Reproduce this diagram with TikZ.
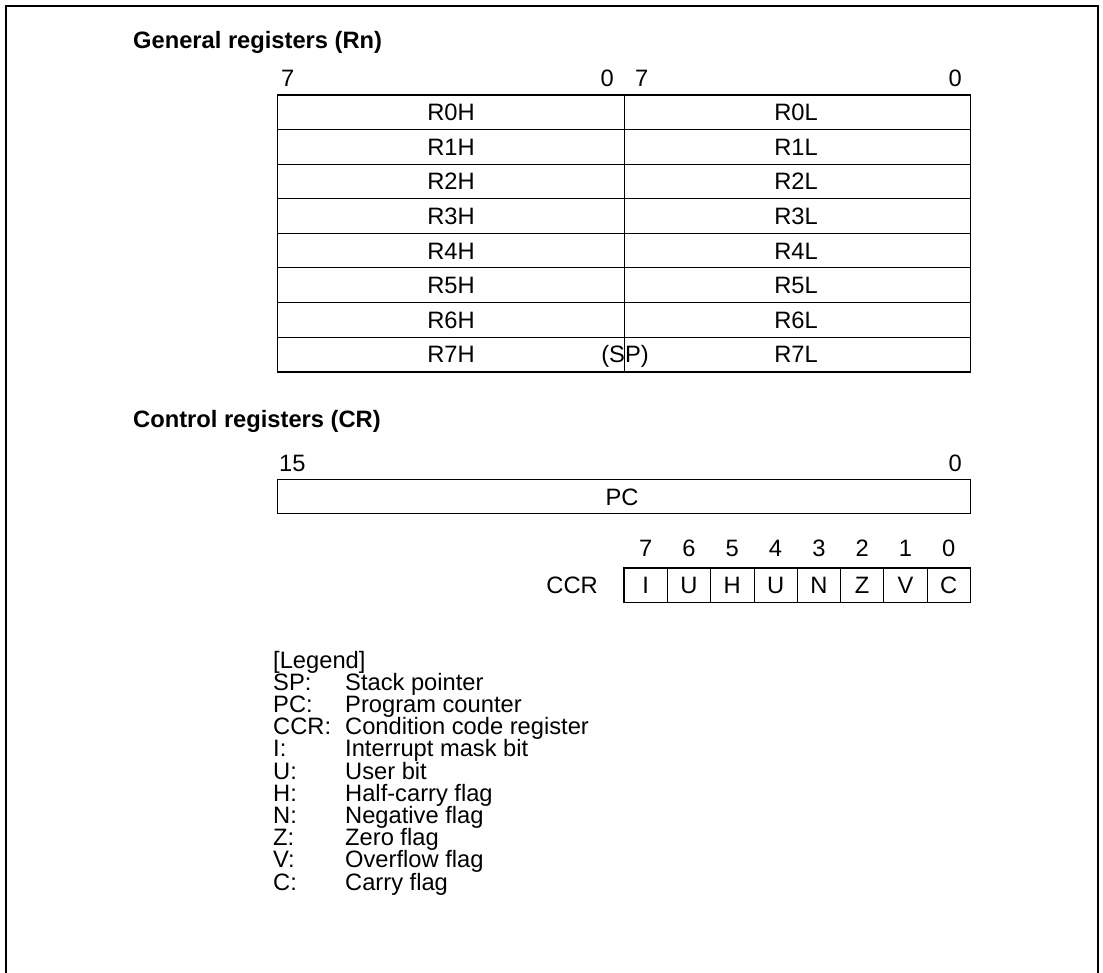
\documentclass[tikz,border=0pt]{standalone}
\usepackage{fontspec}
\setmainfont{Liberation Sans}
\begin{document}
\begin{tikzpicture}[x=1pt,y=-1pt,
  txt/.style={inner sep=0pt, anchor=base, font=\fontsize{23.7}{23.7}\selectfont},
  ttl/.style={inner sep=0pt, anchor=base west, font=\fontsize{23.7}{23.7}\selectfont\bfseries},
  leg/.style={inner sep=0pt, anchor=base west, font=\fontsize{23.7}{23.7}\selectfont},
  grid/.style={line width=1pt},
  thin/.style={line width=0.7pt},
  border/.style={line width=1.5pt},
  frame/.style={line width=2.5pt}]
\useasboundingbox (0,0) rectangle (1103,973);
% outer frame (open at the bottom)
\draw[frame] (6,973) -- (6,6) -- (1098,6) -- (1098,973);

% ---------- General registers ----------
\node[ttl] (t1) at (133,49) {General registers (Rn)};
\node[txt, anchor=base west] (b7a) at (281,87) {7};
\node[txt, anchor=base east] (b0a) at (614,87) {0};
\node[txt, anchor=base west] (b7b) at (635,87) {7};
\node[txt, anchor=base east] (b0b) at (962,87) {0};

\def\rh{34.6}
\foreach \i in {1,...,7}{
  \draw[grid] (277.5,{95+\i*\rh}) -- (970.5,{95+\i*\rh});
}
\draw[thin] (624,95) -- (624,{95+8*\rh});
\draw[border] (277.5,95) rectangle (970.5,{95+8*\rh});

\foreach \i in {0,...,6}{
  \node[txt] (rh\i) at (451,{95+\i*\rh+\rh/2+8.4}) {R\i H};
  \node[txt] (rl\i) at (796,{95+\i*\rh+\rh/2+8.4}) {R\i L};
}
\node[txt] (rh7) at (451,{95+7*\rh+\rh/2+8.4}) {R7H};
\node[txt] (sp) at (625,{95+7*\rh+\rh/2+8.4}) {(SP)};
\node[txt] (rl7) at (796,{95+7*\rh+\rh/2+8.4}) {R7L};

% ---------- Control registers ----------
\node[ttl] (t2) at (133,428) {Control registers (CR)};
\node[txt, anchor=base west] (b15) at (279,471) {15};
\node[txt, anchor=base east] (b0c) at (962,471) {0};
\draw[border] (277.5,479.5) rectangle (970.5,513.7);
\node[txt] (pc) at (622,{496.6+8.4}) {PC};

\node[txt, anchor=base east] (ccr) at (598,{585.3+8.4}) {CCR};
\def\cw{43.3}
\foreach \j in {1,...,7}{
  \draw[thin] ({624+\j*\cw},568) -- ({624+\j*\cw},602.7);
}
\draw[border] (624,568) rectangle (970.5,602.7);
\foreach \b/\f [count=\k from 0] in {7/I,6/U,5/H,4/U,3/N,2/Z,1/V,0/C}{
  \node[txt] (cb\k) at ({624+\k*\cw+\cw/2},556) {\b};
  \node[txt] (cf\k) at ({624+\k*\cw+\cw/2},{585.3+8.4}) {\f};
}

% ---------- Legend ----------
\def\ls{22.2}
\node[leg] (lg) at (273,668) {[Legend]};
\foreach \a/\d [count=\n from 1] in {SP:/Stack pointer,PC:/Program counter,CCR:/Condition code register,I:/Interrupt mask bit,U:/User bit,H:/Half-carry flag,N:/Negative flag,Z:/Zero flag,V:/Overflow flag,C:/Carry flag}{
  \node[leg] (la\n) at (273,{668+\n*\ls}) {\a};
  \node[leg] (ld\n) at (345,{668+\n*\ls}) {\d};
}
\end{tikzpicture}
\end{document}
